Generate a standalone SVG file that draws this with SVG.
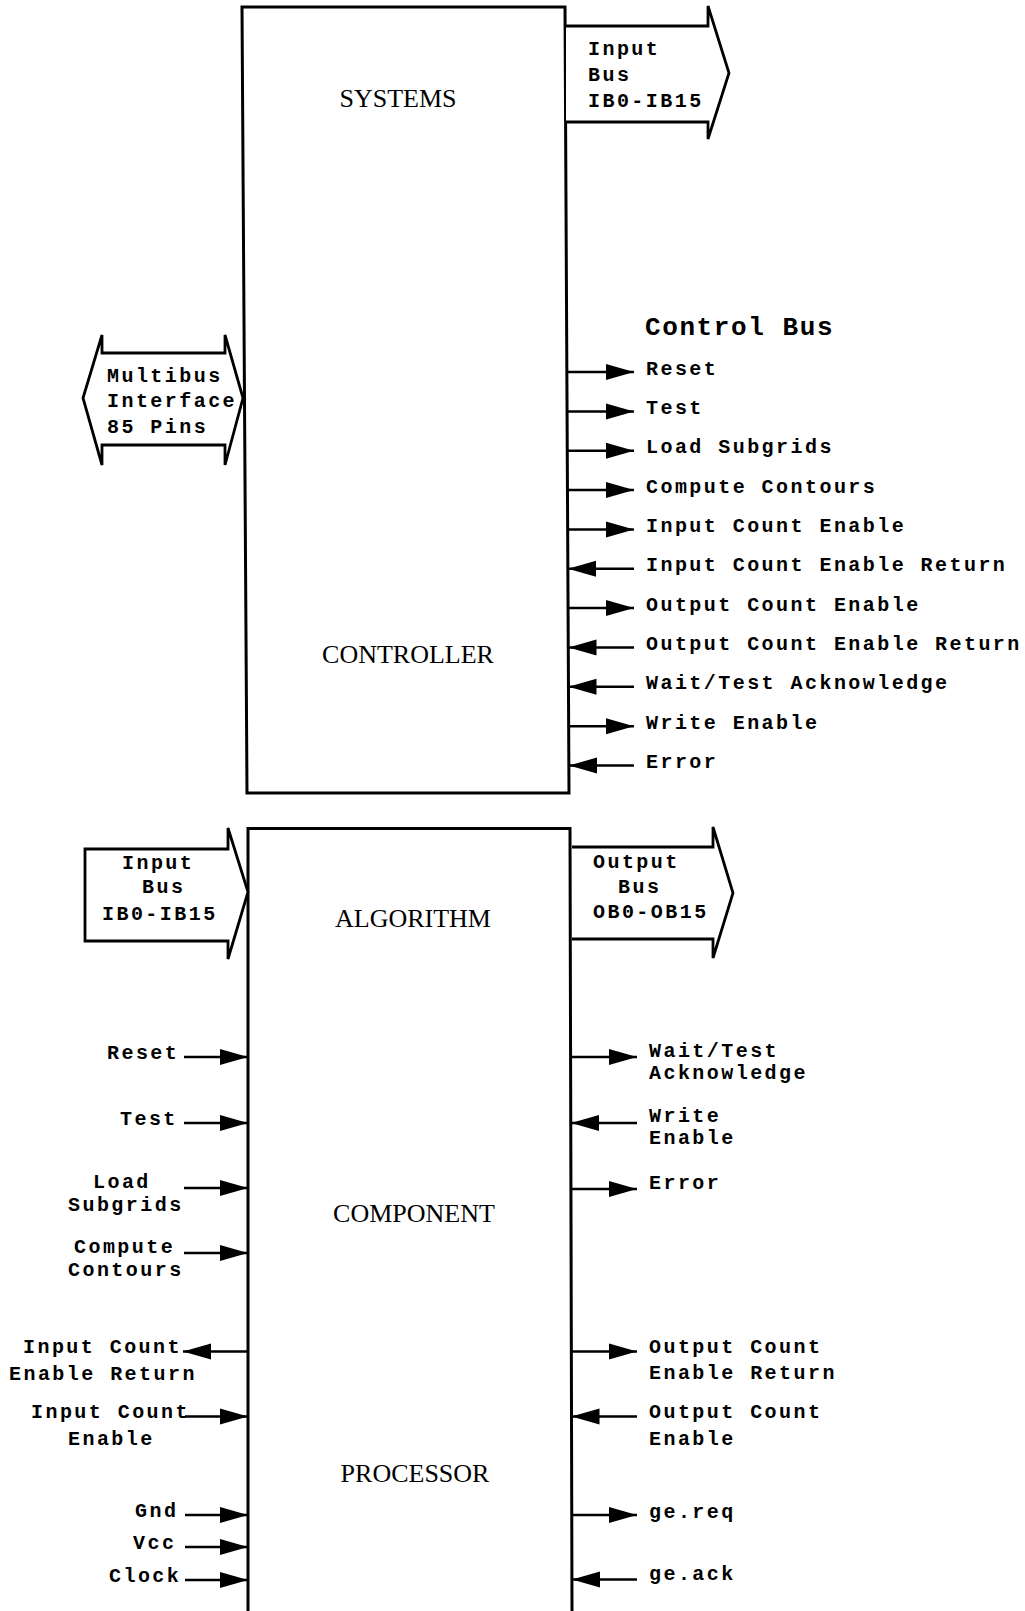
<svg xmlns="http://www.w3.org/2000/svg" width="1025" height="1611" viewBox="0 0 1025 1611">
<style>
.bg{fill:#fff}
.box{fill:none;stroke:#000;stroke-width:3;stroke-linejoin:miter}
.bus{fill:#fff;stroke:#000;stroke-width:2.8;stroke-linejoin:miter}
.sig{fill:none;stroke:#000;stroke-width:2.5;marker-end:url(#ah)}
.lbl{font-family:"Liberation Mono","DejaVu Sans Mono",monospace;font-weight:bold;font-size:20px;letter-spacing:2.45px;fill:#000}
.ttl{font-family:"Liberation Mono","DejaVu Sans Mono",monospace;font-weight:bold;font-size:26px;letter-spacing:1.6px;fill:#000}
.big{font-family:"Liberation Serif","Times New Roman",serif;font-size:26px;text-anchor:middle;fill:#000}
</style>
<defs>
<marker id="ah" markerUnits="userSpaceOnUse" markerWidth="30" markerHeight="18" refX="28" refY="8.5" orient="auto">
<path d="M0,0.5 L28,8.5 L0,16.5 Z" fill="#000"/>
</marker>
</defs>
<rect class="bg" x="0" y="0" width="1025" height="1611"/>

<g id="systems-controller">
<path class="box" d="M242,7 L565,7 L569,793 L247,793 Z"/>
<text class="big" x="398" y="107">SYSTEMS</text>
<text class="big" x="408" y="663">CONTROLLER</text>
</g>

<g id="input-bus-top">
<path class="bus" d="M566,26 L708,26 L708,6 L729,73 L708,139 L708,122 L566,122"/>
<text class="lbl" x="588" y="55">Input</text>
<text class="lbl" x="588" y="81">Bus</text>
<text class="lbl" x="588" y="107">IB0-IB15</text>
</g>

<g id="multibus">
<path class="bus" d="M102,353 L102,335 L83,398 L102,465 L102,445 L225,445 L225,465 L243,398 L225,335 L225,353 Z"/>
<text class="lbl" x="107" y="382">Multibus</text>
<text class="lbl" x="107" y="407">Interface</text>
<text class="lbl" x="107" y="433">85 Pins</text>
</g>

<g id="control-bus">
<text class="ttl" x="645" y="335">Control Bus</text>
<text class="lbl" x="646" y="374.5">Reset</text>
<text class="lbl" x="646" y="414">Test</text>
<text class="lbl" x="646" y="453">Load Subgrids</text>
<text class="lbl" x="646" y="492.5">Compute Contours</text>
<text class="lbl" x="646" y="532">Input Count Enable</text>
<text class="lbl" x="646" y="571">Input Count Enable Return</text>
<text class="lbl" x="646" y="610.5">Output Count Enable</text>
<text class="lbl" x="646" y="650">Output Count Enable Return</text>
<text class="lbl" x="646" y="689">Wait/Test Acknowledge</text>
<text class="lbl" x="646" y="728.5">Write Enable</text>
<text class="lbl" x="646" y="768">Error</text>
</g>

<g id="algorithm-processor">
<path class="box" d="M248,1611 L248,828.5 L570,828.5 L572,1611"/>
<text class="big" x="413" y="927">ALGORITHM</text>
<text class="big" x="414" y="1222">COMPONENT</text>
<text class="big" x="415" y="1482">PROCESSOR</text>
</g>

<g id="input-bus-bottom">
<path class="bus" d="M85,849 L228,849 L228,828 L248,892 L228,959 L228,941 L85,941 Z"/>
<text class="lbl" x="122" y="869">Input</text>
<text class="lbl" x="142" y="893">Bus</text>
<text class="lbl" x="102" y="920">IB0-IB15</text>
</g>

<g id="output-bus">
<path class="bus" d="M572,847 L713,847 L713,827 L733,893 L713,958 L713,939 L572,939"/>
<text class="lbl" x="593" y="868">Output</text>
<text class="lbl" x="618" y="893">Bus</text>
<text class="lbl" x="593" y="918">OB0-OB15</text>
</g>

<g id="processor-left-labels">
<text class="lbl" x="107" y="1059">Reset</text>
<text class="lbl" x="120" y="1125">Test</text>
<text class="lbl" x="93" y="1188">Load</text>
<text class="lbl" x="68" y="1211">Subgrids</text>
<text class="lbl" x="74" y="1253">Compute</text>
<text class="lbl" x="68" y="1276">Contours</text>
<text class="lbl" x="23" y="1353">Input Count</text>
<text class="lbl" x="9" y="1380">Enable Return</text>
<text class="lbl" x="31" y="1418">Input Count</text>
<text class="lbl" x="68" y="1445">Enable</text>
<text class="lbl" x="135" y="1517">Gnd</text>
<text class="lbl" x="133" y="1549">Vcc</text>
<text class="lbl" x="109" y="1582">Clock</text>
</g>

<g id="processor-right-labels">
<text class="lbl" x="649" y="1057">Wait/Test</text>
<text class="lbl" x="649" y="1079">Acknowledge</text>
<text class="lbl" x="649" y="1122">Write</text>
<text class="lbl" x="649" y="1144">Enable</text>
<text class="lbl" x="649" y="1189">Error</text>
<text class="lbl" x="649" y="1353">Output Count</text>
<text class="lbl" x="649" y="1379">Enable Return</text>
<text class="lbl" x="649" y="1418">Output Count</text>
<text class="lbl" x="649" y="1445">Enable</text>
<text class="lbl" x="649" y="1518">ge.req</text>
<text class="lbl" x="649" y="1580">ge.ack</text>
</g>

<g id="connectors">
<line class="sig" x1="567" y1="372" x2="634" y2="372"/>
<line class="sig" x1="567" y1="411.4" x2="634" y2="411.4"/>
<line class="sig" x1="567" y1="450.7" x2="634" y2="450.7"/>
<line class="sig" x1="567" y1="490.1" x2="634" y2="490.1"/>
<line class="sig" x1="567.5" y1="529.4" x2="634" y2="529.4"/>
<line class="sig" x1="634" y1="568.8" x2="568" y2="568.8"/>
<line class="sig" x1="568" y1="608.1" x2="634" y2="608.1"/>
<line class="sig" x1="634" y1="647.5" x2="568.5" y2="647.5"/>
<line class="sig" x1="634" y1="686.8" x2="568.5" y2="686.8"/>
<line class="sig" x1="568.5" y1="726.2" x2="634" y2="726.2"/>
<line class="sig" x1="634" y1="765.5" x2="569" y2="765.5"/>

<line class="sig" x1="184" y1="1057" x2="248" y2="1057"/>
<line class="sig" x1="184" y1="1123" x2="248" y2="1123"/>
<line class="sig" x1="184" y1="1188" x2="248" y2="1188"/>
<line class="sig" x1="184" y1="1253" x2="248" y2="1253"/>
<line class="sig" x1="248" y1="1351.5" x2="183" y2="1351.5"/>
<line class="sig" x1="185" y1="1416.5" x2="248" y2="1416.5"/>
<line class="sig" x1="185" y1="1515" x2="248" y2="1515"/>
<line class="sig" x1="185" y1="1547" x2="248" y2="1547"/>
<line class="sig" x1="185" y1="1580" x2="248" y2="1580"/>

<line class="sig" x1="571" y1="1057" x2="637" y2="1057"/>
<line class="sig" x1="637" y1="1123" x2="571" y2="1123"/>
<line class="sig" x1="571" y1="1189" x2="637" y2="1189"/>
<line class="sig" x1="571.5" y1="1351.5" x2="637" y2="1351.5"/>
<line class="sig" x1="637" y1="1416.5" x2="571.5" y2="1416.5"/>
<line class="sig" x1="571.5" y1="1515" x2="637" y2="1515"/>
<line class="sig" x1="637" y1="1579.5" x2="572" y2="1579.5"/>
</g>
</svg>
